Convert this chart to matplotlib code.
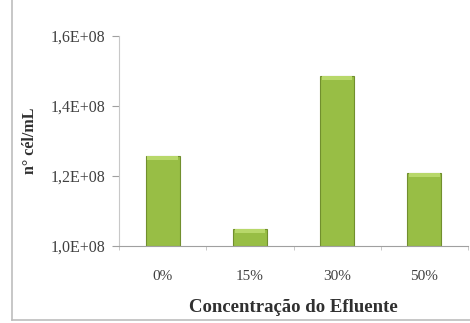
import matplotlib
matplotlib.use("Agg")
import matplotlib.pyplot as plt
import numpy as np

# dados
categorias = ["0%", "15%", "30%", "50%"]
celulas = [1.257e8, 1.049e8, 1.486e8, 1.209e8]
yticks = [1.0e8, 1.2e8, 1.4e8, 1.6e8]
ytick_labels = ["1,0E+08", "1,2E+08", "1,4E+08", "1,6E+08"]

plt.rcParams["font.family"] = ["Liberation Serif", "DejaVu Serif"]

fig = plt.figure(figsize=(4.7, 3.23), dpi=100)
ax = fig.add_axes([0.253, 0.238, 0.743, 0.651])

x = np.arange(len(categorias))
base = yticks[0]
alturas = [v - base for v in celulas]
ax.bar(x, alturas, bottom=base, width=0.39, color="#98BE45",
       edgecolor="#718F2E", linewidth=0.8, zorder=2)
# faixa clara no topo das barras
ax.bar(x, [0.01e8] * len(x), bottom=[v - 0.011e8 for v in celulas],
       width=0.35, color="#B8D86A", linewidth=0, zorder=3)

ax.set_xlim(-0.5, len(categorias) - 0.5)
ax.set_ylim(yticks[0], yticks[-1])
ax.set_yticks(yticks)
ax.set_yticklabels(ytick_labels, fontsize=11.5, color="#404040")
ax.set_xticks(x)
ax.set_xticklabels(categorias, fontsize=11, color="#404040")
ax.set_xticks(np.arange(len(categorias) + 1) - 0.5, minor=True)
ax.tick_params(axis="x", which="major", length=0, pad=17)
ax.tick_params(axis="x", which="minor", length=3, color="#BFBFBF")
ax.tick_params(axis="y", length=5, color="#A0A0A0", pad=5)

for s in ["top", "right"]:
    ax.spines[s].set_visible(False)
ax.spines["left"].set_color("#C8C8C8")
ax.spines["bottom"].set_color("#A0A0A0")

ax.set_xlabel("Concentração do Efluente", fontsize=13.5, fontweight="bold",
              color="#303030", labelpad=12)
ax.set_ylabel("n° cél/mL", fontsize=11.5, fontweight="bold", color="#303030")
ax.yaxis.set_label_coords(-0.232, 0.5)

# moldura da area do grafico
fig.add_artist(plt.Line2D([0.026, 0.026], [0.01, 1.0], color="#BDBDBD",
                          linewidth=1.2, transform=fig.transFigure))
fig.add_artist(plt.Line2D([0.026, 1.0], [0.01, 0.01], color="#BDBDBD",
                          linewidth=1.2, transform=fig.transFigure))

fig.savefig("out.png", dpi=100)
